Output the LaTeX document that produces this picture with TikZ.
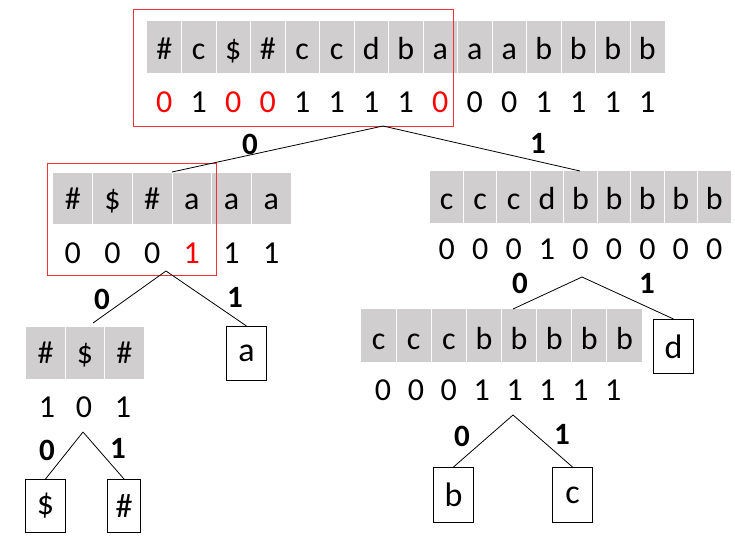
\documentclass[tikz,border=0pt]{standalone}
\usepackage{fontspec}
\setmainfont{Carlito}
\definecolor{cellgray}{HTML}{D0CECE}
\definecolor{hlred}{HTML}{FF0000}
\definecolor{boxred}{HTML}{F03232}
\tikzset{
  band/.style={fill=cellgray, draw=none, inner sep=0pt, outer sep=0pt, anchor=north west},
  sep/.style={draw=white!92!cellgray, line width=0.8pt},
  cell/.style={font=\fontsize{32}{32}\selectfont, inner sep=0pt, anchor=base},
  bit/.style={font=\fontsize{32}{32}\selectfont, inner sep=0pt, anchor=base},
  lbl/.style={font=\fontsize{31}{31}\selectfont\bfseries, inner sep=0pt},
  leaf/.style={draw=black, line width=1pt, fill=white, inner sep=0pt, anchor=north west, font=\fontsize{34}{34}\selectfont},
  hlbox/.style={draw=boxred, line width=1.3pt, inner sep=0pt, anchor=north west},
  edge/.style={draw=black, line width=0.8pt},
}
\begin{document}
\begin{tikzpicture}[x=1pt,y=-1pt]
\useasboundingbox (0,0) rectangle (735,541);

% ---------- root: 15 cells ----------
\node[band, minimum width=517.5pt, minimum height=52pt] (rootband) at (147,21) {};
\foreach \k in {1,...,14} \draw[sep] ({147+34.5*\k},21) -- ({147+34.5*\k},73);
\foreach \t [count=\i] in {\#,c,\$,\#,c,c,d,b,a,a,a,b,b,b,b}
  \node[cell] (r\i) at ({147+34.5*(\i-0.5)},59) {\t};
\foreach \c/\b [count=\i] in {hlred/0,black/1,hlred/0,hlred/0,black/1,black/1,black/1,black/1,hlred/0,black/0,black/0,black/1,black/1,black/1,black/1}
  \node[bit, text=\c] (rb\i) at ({147+34.5*(\i-0.5)},112) {\b};
\node[hlbox, minimum width=320pt, minimum height=117pt] (rootred) at (133,9) {};

% ---------- left child: 6 cells ----------
\node[band, minimum width=238pt, minimum height=51pt] (lband) at (53,173) {};
\foreach \k in {1,...,5} \draw[sep] ({53+39.67*\k},173) -- ({53+39.67*\k},224);
\foreach \t [count=\i] in {\#,\$,\#,a,a,a}
  \node[cell] (l\i) at ({53+39.67*(\i-0.5)},209) {\t};
\foreach \c/\b [count=\i] in {black/0,black/0,black/0,hlred/1,black/1,black/1}
  \node[bit, text=\c] (lb\i) at ({53+39.67*(\i-0.5)},263) {\b};
\node[hlbox, minimum width=169pt, minimum height=112pt] (lred) at (47,163) {};

% ---------- right child: 9 cells ----------
\node[band, minimum width=301pt, minimum height=52pt] (rband) at (430,171) {};
\foreach \k in {1,...,8} \draw[sep] ({430+33.44*\k},171) -- ({430+33.44*\k},223);
\foreach \t [count=\i] in {c,c,c,d,b,b,b,b,b}
  \node[cell] (q\i) at ({430+33.44*(\i-0.5)},209) {\t};
\foreach \b [count=\i] in {0,0,0,1,0,0,0,0,0}
  \node[bit] (qb\i) at ({430+33.44*(\i-0.5)},259) {\b};

% ---------- #$# node ----------
\node[band, minimum width=118pt, minimum height=52pt] (hband) at (26,327) {};
\foreach \k in {1,2} \draw[sep] ({26+39.33*\k},327) -- ({26+39.33*\k},379);
\foreach \t [count=\i] in {\#,\$,\#}
  \node[cell] (h\i) at ({26+39.33*(\i-0.5)},363) {\t};
\foreach \b/\x [count=\i] in {1/47,0/84,1/123}
  \node[bit] (hb\i) at (\x,417) {\b};

% ---------- cccbbbbb node ----------
\node[band, minimum width=281pt, minimum height=53pt] (cband) at (361,309) {};
\foreach \k in {1,...,7} \draw[sep] ({361+35.125*\k},309) -- ({361+35.125*\k},362);
\foreach \t [count=\i] in {c,c,c,b,b,b,b,b}
  \node[cell] (c\i) at ({361+35.125*(\i-0.5)},349) {\t};
\foreach \b [count=\i] in {0,0,0,1,1,1,1,1}
  \node[bit] (cb\i) at ({383+32.9*(\i-1)},400) {\b};

% ---------- leaves ----------
\node[leaf, minimum width=40pt, minimum height=54pt] (leafa) at (226,326) {a};
\node[leaf, minimum width=40pt, minimum height=54pt] (leafd) at (653,319) {d};
\node[leaf, minimum width=40pt, minimum height=53pt] (leafdollar) at (25,479) {\$};
\node[leaf, minimum width=33pt, minimum height=53pt] (leafhash) at (107,479) {\#};
\node[leaf, minimum width=40pt, minimum height=55pt] (leafb) at (433,467) {b};
\node[leaf, minimum width=40pt, minimum height=55pt] (leafc) at (552,467) {c};

% ---------- connector points ----------
\coordinate (ap0) at (383,126);
\coordinate (lt) at (172,172);
\coordinate (rt) at (580,171);
\coordinate (ap1) at (166,271);
\coordinate (ht) at (93,323);
\coordinate (ap2) at (582,277);
\coordinate (ct) at (513,309);
\coordinate (ap3) at (83,432);
\coordinate (ap4) at (513,415);

% ---------- connectors ----------
\draw[edge] (ap0) -- (lt);
\draw[edge] (ap0) -- (rt);
\draw[edge] (ap1) -- (ht);
\draw[edge] (ap1) -- (leafa.north);
\draw[edge] (ap2) -- (ct);
\draw[edge] (ap2) -- (leafd.north);
\draw[edge] (ap3) -- (leafdollar.north);
\draw[edge] (ap3) -- (leafhash.north);
\draw[edge] (ap4) -- (leafb.north);
\draw[edge] (ap4) -- (leafc.north);

% ---------- edge labels ----------
\node[lbl] (e0) at (250,144) {0};
\node[lbl] (e1) at (538,143) {1};
\node[lbl] (e2) at (102,299) {0};
\node[lbl] (e3) at (235,297) {1};
\node[lbl] (e4) at (520,283) {0};
\node[lbl] (e5) at (647,283) {1};
\node[lbl] (e6) at (47,450) {0};
\node[lbl] (e7) at (118,448) {1};
\node[lbl] (e8) at (462,436) {0};
\node[lbl] (e9) at (562,434) {1};
\end{tikzpicture}
\end{document}
